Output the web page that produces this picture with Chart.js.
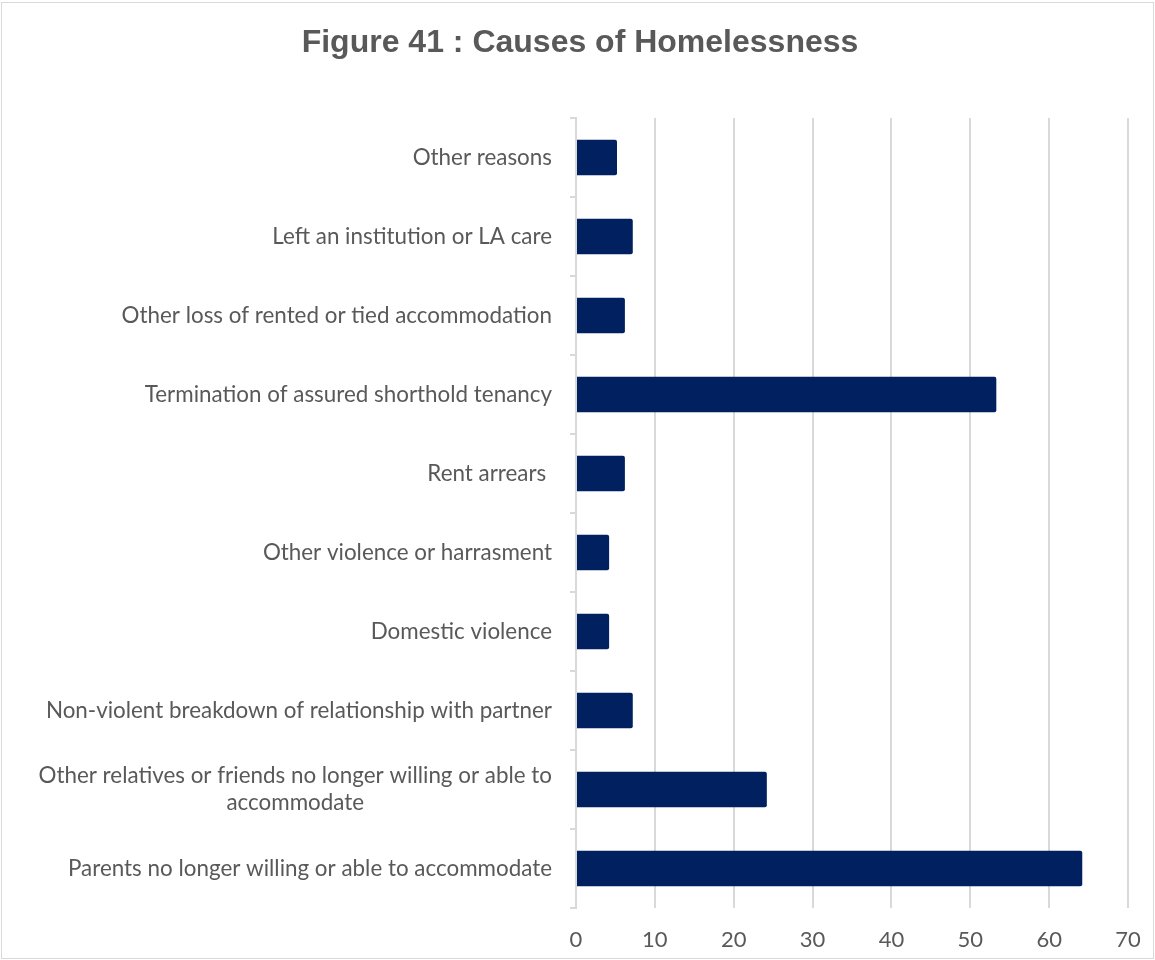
<!DOCTYPE html>
<html>
<head>
<meta charset="utf-8">
<script src="https://cdn.jsdelivr.net/npm/chart.js@4"></script>
<style>
  html, body { margin: 0; padding: 0; background: #fff; }
  #wrap { width: 1155px; height: 960px; }
</style>
</head>
<body>
<div id="wrap"><canvas id="c" width="1155" height="960"></canvas></div>
<script>
const categories = [
  "Other reasons",
  "Left an institution or LA care",
  "Other loss of rented or tied accommodation",
  "Termination of assured shorthold tenancy",
  "Rent arrears ",
  "Other violence or harrasment",
  "Domestic violence",
  "Non-violent breakdown of relationship with partner",
  ["Other relatives or friends no longer willing or able to", "accommodate"],
  "Parents no longer willing or able to accommodate"
];
const values = [5.2, 7.2, 6.2, 53.3, 6.2, 4.2, 4.2, 7.2, 24.2, 64.2];
const xTicks = [0, 10, 20, 30, 40, 50, 60, 70];
const titleText = "Figure 41 : Causes of Homelessness";

const LABEL_FONT = "22.4px Lato";
const TITLE_FONT = "bold 32px 'Liberation Sans', Arial, sans-serif";
const TEXT_COLOR = "#595959";
const GRID = "#d9d9d9";

const frame = {
  id: 'frame',
  beforeDraw(chart) {
    const ctx = chart.ctx;
    ctx.save();
    ctx.fillStyle = '#fff';
    ctx.fillRect(0, 0, chart.width, chart.height);
    ctx.strokeStyle = GRID;
    ctx.lineWidth = 1;
    ctx.strokeRect(1.5, 2.5, chart.width - 3, chart.height - 4);
    ctx.font = TITLE_FONT;
    ctx.fillStyle = TEXT_COLOR;
    ctx.textAlign = 'center';
    ctx.textBaseline = 'middle';
    ctx.fillText(titleText, 580, 43);
    ctx.restore();
  }
};

const yLabels = {
  id: 'yLabels',
  afterDraw(chart) {
    const ctx = chart.ctx;
    const y = chart.scales.y;
    ctx.save();
    ctx.font = LABEL_FONT;
    ctx.fillStyle = TEXT_COLOR;
    ctx.textBaseline = 'middle';
    ctx.textAlign = 'center';
    const right = y.right - 24;
    const lh = 27;
    categories.forEach((lab, i) => {
      const lines = Array.isArray(lab) ? lab : [lab];
      const w = Math.max(...lines.map(l => ctx.measureText(l).width));
      const cx = right - w / 2;
      const cy = y.getPixelForValue(i);
      const top = cy - (lines.length - 1) * lh / 2;
      lines.forEach((l, k) => ctx.fillText(l, cx, top + k * lh));
    });
    ctx.restore();
  }
};

new Chart(document.getElementById('c'), {
  type: 'bar',
  data: {
    labels: categories,
    datasets: [{
      data: values,
      backgroundColor: '#002060',
      borderColor: '#002060',
      borderWidth: 0,
      borderRadius: 2,
      borderSkipped: 'start',
      barPercentage: 0.45,
      categoryPercentage: 1.0
    }]
  },
  plugins: [frame, yLabels],
  options: {
    indexAxis: 'y',
    responsive: false,
    animation: false,
    devicePixelRatio: 1,
    layout: { padding: { left: 0, right: 27, top: 118, bottom: 0 } },
    plugins: {
      legend: { display: false },
      tooltip: { enabled: false },
      title: { display: false }
    },
    scales: {
      x: {
        min: 0,
        max: 70,
        afterBuildTicks(scale) { scale.ticks = xTicks.map(v => ({ value: v })); },
        afterFit(scale) { scale.height = 52; scale.paddingLeft = 0; scale.paddingRight = 0; },
        grid: { color: GRID, lineWidth: 2, drawTicks: false },
        border: { display: false },
        ticks: {
          color: TEXT_COLOR,
          font: { family: 'Lato', size: 22 },
          padding: 19
        }
      },
      y: {
        offset: true,
        afterFit(scale) { scale.width = 576; scale.paddingTop = 0; scale.paddingBottom = 0; },
        grid: { drawOnChartArea: false, drawTicks: true, tickLength: 6, color: GRID, lineWidth: 2, offset: true },
        border: { display: true, color: GRID, width: 2 },
        ticks: { display: false }
      }
    }
  }
});
</script>
</body>
</html>
